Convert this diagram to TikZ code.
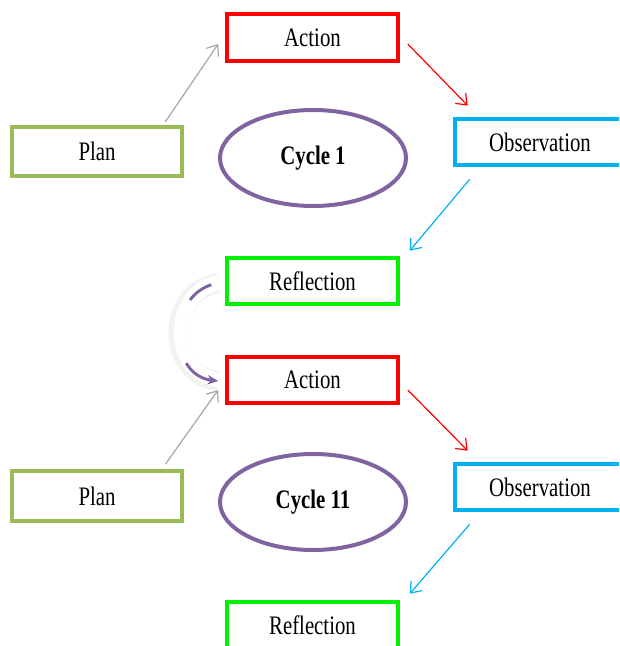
\documentclass[tikz,border=0pt]{standalone}
\usepackage{fontspec}
\setmainfont{Liberation Serif}[FakeStretch=0.78]
\usetikzlibrary{arrows.meta,calc,shapes.geometric}
% colours of the two cycles
\definecolor{actred}{HTML}{FF0000}
\definecolor{plangreen}{HTML}{9BBB59}
\definecolor{obsblue}{HTML}{00B0F0}
\definecolor{reflgreen}{HTML}{00F000}
\definecolor{cycpurple}{HTML}{8064A2}
\definecolor{linkgray}{HTML}{A6A6A6}
\tikzset{
  box/.style={draw, line width=3pt, minimum width=128pt, minimum height=35pt, inner sep=0pt},
  cycleell/.style={draw=cycpurple, ellipse, line width=3pt, minimum width=139.5pt, minimum height=72pt, inner sep=0pt, font=\fontsize{20}{24}\selectfont\bfseries},
  link/.style={line width=0.9pt, -{Straight Barb[length=7pt,width=11pt,line width=0.9pt]}}
}
\begin{document}
\begin{tikzpicture}[x=0.75pt,y=-0.75pt,font=\fontsize{20}{24}\selectfont]
  \clip (0,0) rectangle (619,646);
  % --- Cycle 1 ---
  \node[box, draw=actred] (act1) at (312.5,37.5) {Action};
  \node[box, draw=plangreen, minimum height=37pt] (plan1) at (97,151.5) {Plan};
  \node[cycleell] (cyc1) at (313,158) {Cycle 1};
  \node[box, draw=obsblue] (obs1) at (540,142) {Observation};
  \node[box, draw=reflgreen] (refl1) at (312.5,281) {Reflection};
  \draw[link, linkgray] ($(plan1.north east)+(-19,-3)$) -- ($(act1.west)+(-7,6.5)$);
  \draw[link, actred] ($(act1.east)+(8,6.5)$) -- ($(obs1.north west)+(15,-11)$);
  \draw[link, obsblue] ($(obs1.south west)+(17,12)$) -- ($(refl1.north east)+(10,-5)$);
  % --- Cycle 11 ---
  \node[box, draw=actred] (act2) at (312.5,380) {Action};
  \node[box, draw=plangreen, minimum height=37pt] (plan2) at (97,496) {Plan};
  \node[cycleell] (cyc2) at (313,502) {Cycle 11};
  \node[box, draw=obsblue] (obs2) at (540,487) {Observation};
  \node[box, draw=reflgreen] (refl2) at (312.5,625) {Reflection};
  \draw[link, linkgray] ($(plan2.north east)+(-19,-5)$) -- ($(act2.west)+(-7,10)$);
  \draw[link, actred] ($(act2.east)+(8,10)$) -- ($(obs2.north west)+(15,-11)$);
  \draw[link, obsblue] ($(obs2.south west)+(17,12)$) -- ($(refl2.north east)+(10,-6)$);
  % --- curved link from Reflection to the next Action ---
  \draw[gray!10, line width=15pt] ($(refl1.west)+(-6,2)$) .. controls (165,290) and (165,375) .. ($(act2.west)+(-7,1)$);
  \draw[white, line width=11pt] ($(refl1.west)+(-4,1)$) .. controls (168,290) and (168,375) .. ($(act2.west)+(-5,0)$);
  \draw[cycpurple, line width=2.2pt, dash pattern=on 0pt off 6pt on 20pt off 50pt on 40pt,
        -{Stealth[length=8pt,width=7pt]}] ($(refl1.west)+(-6,2)$) .. controls (167,290) and (167,375) .. ($(act2.west)+(-7,1)$);
\end{tikzpicture}
\end{document}
